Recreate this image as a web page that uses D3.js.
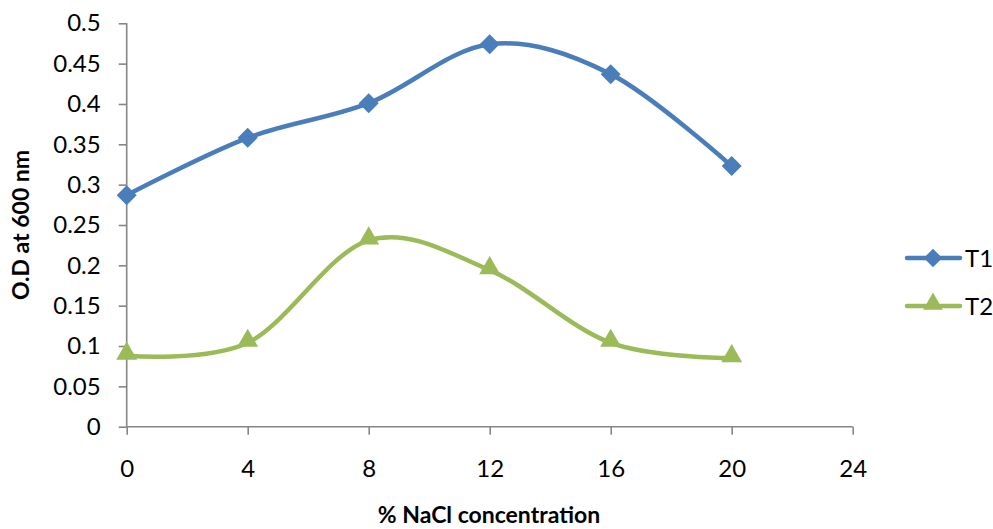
<!DOCTYPE html>
<html><head><meta charset="utf-8">
<script src="https://cdn.jsdelivr.net/npm/d3@7"></script>
<style>body{margin:0;background:#fff}svg{display:block}</style>
</head><body>
<svg id="chart" width="993" height="529"></svg>
<script>
const xValues = [0, 4, 8, 12, 16, 20];
const t1 = [0.287, 0.358, 0.401, 0.474, 0.437, 0.323];
const t2 = [0.088, 0.104, 0.231, 0.194, 0.104, 0.085];
const seriesNames = ["T1", "T2"];
const xTicks = [0, 4, 8, 12, 16, 20, 24];
const yTicks = [0, 0.05, 0.1, 0.15, 0.2, 0.25, 0.3, 0.35, 0.4, 0.45, 0.5];
const colors = ["#4A7EBB", "#9BBB59"];

const svg = d3.select("#chart");
const font = "Lato, 'Open Sans', sans-serif";
const x = d3.scaleLinear().domain([0, 24]).range([126.7, 852.7]);
const y = d3.scaleLinear().domain([0, 0.5]).range([426.7, 23.3]);
const axisColor = "#868686";

const yAxis = svg.append("g").attr("transform", `translate(${x(0)},0)`)
  .call(d3.axisLeft(y).tickValues(yTicks).tickSize(8).tickPadding(18).tickFormat(d => String(+d.toFixed(2))));
const xAxis = svg.append("g").attr("transform", `translate(0,${y(0)})`)
  .call(d3.axisBottom(x).tickValues(xTicks).tickSize(8).tickPadding(25).tickFormat(d3.format("d")));
[xAxis, yAxis].forEach(g => {
  g.selectAll("path, line").attr("stroke", axisColor).attr("stroke-width", 1.6);
  g.selectAll("text").attr("font-family", font).attr("font-size", 24).attr("fill", "#000");
});
yAxis.select(".domain").attr("d", `M0,${y(0)}V${y(0.5)}`);
xAxis.select(".domain").attr("d", `M${x(0)},0H${x(24)}`);
yAxis.selectAll(".tick line").attr("x2", -8);

const line = d3.line().x((d, i) => x(xValues[i])).y(d => y(d)).curve(d3.curveCatmullRom.alpha(0));
const data = [t1, t2];
const diamond = d3.symbol().type(d3.symbolSquare).size(200);
const tri = d3.symbol().type(d3.symbolTriangle).size(190);

data.forEach((vals, si) => {
  svg.append("path").attr("d", line(vals)).attr("fill", "none")
    .attr("stroke", colors[si]).attr("stroke-width", 4.5).attr("stroke-linecap", "round");
  svg.selectAll(null).data(vals).join("path")
    .attr("transform", (d, i) => `translate(${x(xValues[i])},${y(d)})` + (si === 0 ? " rotate(45)" : " translate(0,-2)"))
    .attr("d", si === 0 ? diamond() : tri())
    .attr("fill", colors[si]);
});

// legend
const legY = [258, 306];
seriesNames.forEach((name, i) => {
  const g = svg.append("g").attr("transform", `translate(0,${legY[i]})`);
  g.append("line").attr("x1", 907).attr("x2", 960).attr("stroke", colors[i]).attr("stroke-width", 4.5).attr("stroke-linecap", "round");
  g.append("path").attr("transform", i === 0 ? "translate(933,0) rotate(45)" : "translate(933,-2)")
    .attr("d", i === 0 ? d3.symbol().type(d3.symbolSquare).size(170)() : d3.symbol().type(d3.symbolTriangle).size(170)())
    .attr("fill", colors[i]);
  g.append("text").attr("x", 965).attr("y", 9).attr("font-family", font).attr("font-size", 24).text(name);
});

svg.append("text").attr("x", 489).attr("y", 523).attr("text-anchor", "middle")
  .attr("font-family", font).attr("font-weight", "bold").attr("font-size", 23).text("% NaCl concentration");
svg.append("text").attr("transform", "translate(29,225) rotate(-90)").attr("text-anchor", "middle")
  .attr("font-family", font).attr("font-weight", "bold").attr("font-size", 23).text("O.D at 600 nm");
</script>
</body></html>
